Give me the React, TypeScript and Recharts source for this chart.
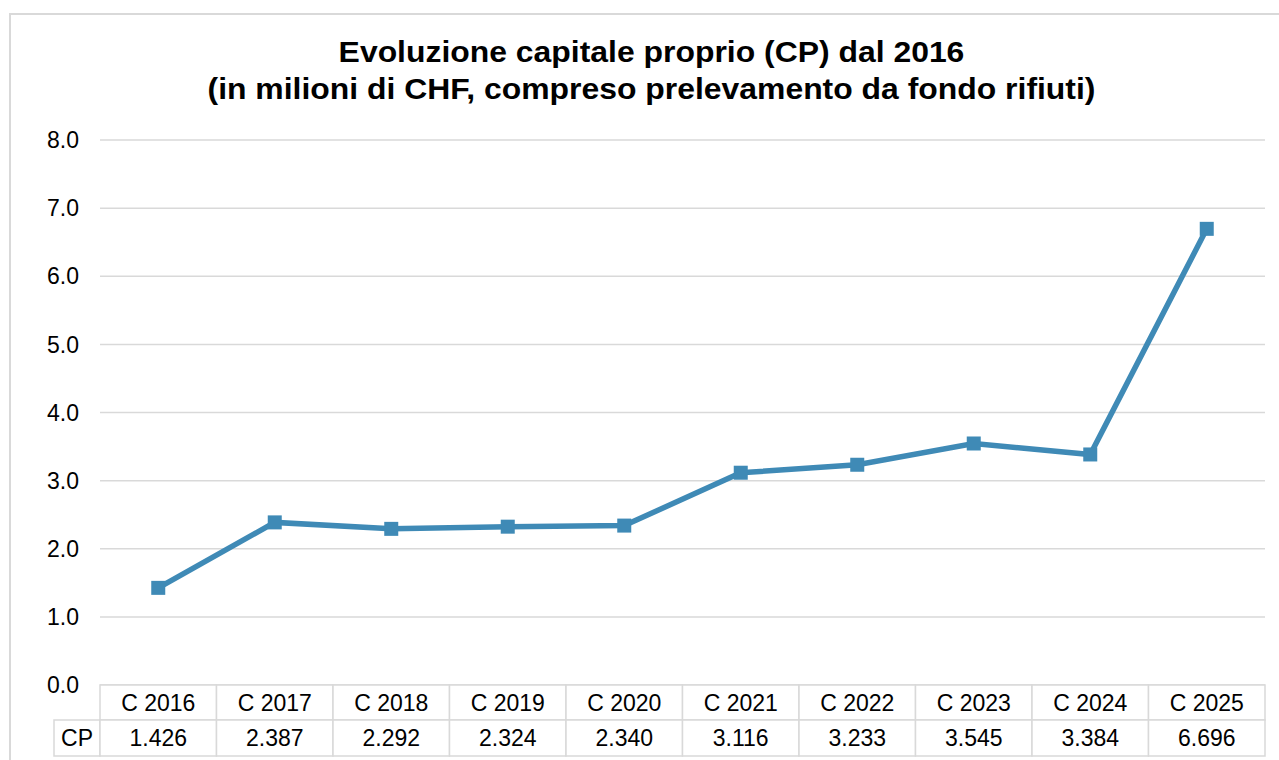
import { LineChart, Line, XAxis, YAxis, CartesianGrid } from "recharts";

const categories = ["C 2016", "C 2017", "C 2018", "C 2019", "C 2020", "C 2021", "C 2022", "C 2023", "C 2024", "C 2025"];
const cpValues = [1.426, 2.387, 2.292, 2.324, 2.34, 3.116, 3.233, 3.545, 3.384, 6.696];
const yTicks = [0, 1, 2, 3, 4, 5, 6, 7, 8];
const seriesName = "CP";

const data = categories.map((name, i) => ({ name, cp: cpValues[i] }));

const FONT = "Arial, 'Liberation Sans', sans-serif";
const GRID = "#d9d9d9";
const LINE = "#3f8ab6";
const FS = 23;

const PLOT_LEFT = 100;
const PLOT_RIGHT = 1265;
const CELL_W = (PLOT_RIGHT - PLOT_LEFT) / categories.length;
const ROW1 = 35;
const ROW2 = 36;

const TableTick = (props: any) => {
  const { x, y, payload, index } = props;
  const left = x - CELL_W / 2;
  return (
    <g>
      {index === 0 && (
        <g>
          <rect x={54} y={y + ROW1} width={left - 54} height={ROW2} fill="#fff" stroke={GRID} strokeWidth={1.5} />
          <text x={(54 + left) / 2} y={y + ROW1 + ROW2 / 2} dominantBaseline="central" textAnchor="middle" fontSize={FS} fill="#000" fontFamily={FONT}>
            {seriesName}
          </text>
        </g>
      )}
      <rect x={left} y={y} width={CELL_W} height={ROW1} fill="#fff" stroke={GRID} strokeWidth={1.5} />
      <rect x={left} y={y + ROW1} width={CELL_W} height={ROW2} fill="#fff" stroke={GRID} strokeWidth={1.5} />
      <text x={x} y={y + ROW1 / 2} dominantBaseline="central" textAnchor="middle" fontSize={FS} fill="#000" fontFamily={FONT}>
        {payload.value}
      </text>
      <text x={x} y={y + ROW1 + ROW2 / 2} dominantBaseline="central" textAnchor="middle" fontSize={FS} fill="#000" fontFamily={FONT}>
        {cpValues[index].toFixed(3)}
      </text>
    </g>
  );
};

const SquareDot = (props: any) => {
  const { cx, cy } = props;
  if (cx == null || cy == null) return null;
  return <rect x={cx - 7} y={cy - 7} width={14} height={14} fill={LINE} />;
};

export default function App() {
  return (
    <div style={{ position: "absolute", left: 0, top: 0, width: 1279, height: 760, background: "#fff", overflow: "hidden" }}>
      <div
        style={{
          position: "absolute",
          left: 9,
          top: 13,
          width: 1400,
          height: 900,
          borderLeft: `2px solid ${GRID}`,
          borderTop: `2px solid ${GRID}`,
        }}
      />
      <div
        style={{
          position: "absolute",
          left: 12,
          top: 34,
          width: 1279,
          textAlign: "center",
          fontFamily: FONT,
          fontWeight: "bold",
          fontSize: 29,
          lineHeight: "37px",
          color: "#000",
          transform: "scaleX(1.1)",
          transformOrigin: "639.5px 0",
        }}
      >
        Evoluzione capitale proprio (CP) dal 2016
        <br />
        (in milioni di CHF, compreso prelevamento da fondo rifiuti)
      </div>
      <div style={{ position: "absolute", left: 0, top: 0 }}>
        <LineChart width={1279} height={760} data={data} margin={{ top: 140, right: 1279 - PLOT_RIGHT, left: 0, bottom: 0 }}>
          <CartesianGrid vertical={false} stroke={GRID} strokeWidth={1.5} />
          <YAxis
            width={PLOT_LEFT}
            domain={[0, 8]}
            ticks={yTicks}
            interval={0}
            axisLine={false}
            tickLine={false}
            tickSize={0}
            tickMargin={21}
            tickFormatter={(v: number) => v.toFixed(1)}
            tick={{ fontSize: FS, fill: "#000", fontFamily: FONT }}
          />
          <XAxis
            dataKey="name"
            height={75}
            interval={0}
            padding={{ left: CELL_W / 2, right: CELL_W / 2 }}
            axisLine={false}
            tickLine={false}
            tickSize={0}
            tickMargin={0}
            tick={<TableTick />}
          />
          <Line
            dataKey="cp"
            stroke={LINE}
            strokeWidth={5.5}
            dot={<SquareDot />}
            activeDot={false}
            isAnimationActive={false}
          />
        </LineChart>
      </div>
    </div>
  );
}
